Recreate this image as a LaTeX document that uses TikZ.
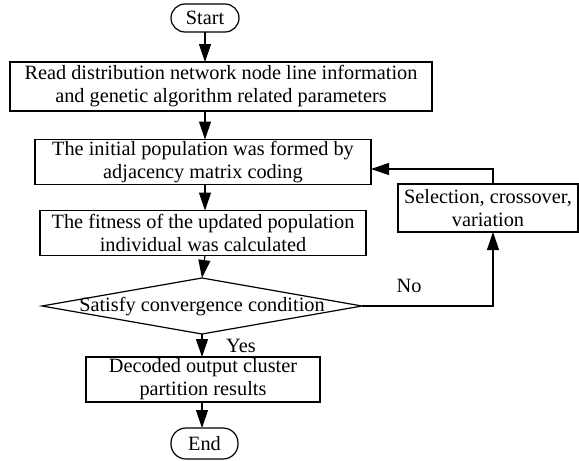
\documentclass[tikz,border=0pt]{standalone}
\usepackage{fontspec}
\setmainfont{Liberation Serif}
\usetikzlibrary{arrows.meta,shapes.geometric}
\begin{document}
\begin{tikzpicture}[x=1pt,y=-1pt,
  font=\rmfamily\fontsize{20.3}{23}\selectfont,
  every node/.style={inner sep=0pt, outer sep=0pt, align=center},
  proc/.style={draw, line width=1.2pt},
  term/.style={draw, line width=1.2pt, rounded corners=14pt},
  conn/.style={line width=1.2pt, -{Triangle[length=18pt,width=12pt]}},
  line width=1.2pt]
\useasboundingbox (0,0) rectangle (579,461);
\node[term, minimum width=68pt, minimum height=28pt] (start) at (205,18) {Start};
\node[proc, minimum width=422pt, minimum height=49pt] (b1) at (221,86.5) {Read distribution network node line information\\and genetic algorithm related parameters};
\node[proc, minimum width=336pt, minimum height=45pt] (b2) at (203,162) {The initial population was formed by\\adjacency matrix coding};
\node[proc, minimum width=326pt, minimum height=45pt] (b3) at (203,233) {The fitness of the updated population\\individual was calculated};
\node[draw, diamond, minimum width=320pt, minimum height=56pt, line width=1.2pt] (dia) at (202,306) {};
\node (diatxt) at (202,307) {Satisfy convergence condition};
\node[proc, minimum width=180pt, minimum height=48pt] (sel) at (488,208) {Selection, crossover,\\variation};
\node[proc, minimum width=234pt, minimum height=45pt] (b4) at (203,379.5) {Decoded output cluster\\partition results};
\node[term, minimum width=67pt, minimum height=31pt, rounded corners=15pt] (end) at (204.5,443.5) {End};
\coordinate (selb) at (493,232);
\coordinate (selt) at (493,184);
\draw[conn] (start.south) -- (start.south |- b1.north);
\draw[conn] (start.south |- b1.south) -- (start.south |- b2.north);
\draw[conn] (start.south |- b2.south) -- (start.south |- b3.north);
\draw[conn] (start.south |- b3.south) -- (dia.north);
\draw[conn] (dia.south) -- (dia.south |- b4.north);
\draw[conn] (dia.south |- b4.south) -- (dia.south |- end.north);
\draw[conn] (dia.east) -| (selb);
\draw[conn] (selt) |- (b2.east |- 0,169);
\node (no) at (409,286) {No};
\node (yes) at (241,346) {Yes};
\end{tikzpicture}
\end{document}
